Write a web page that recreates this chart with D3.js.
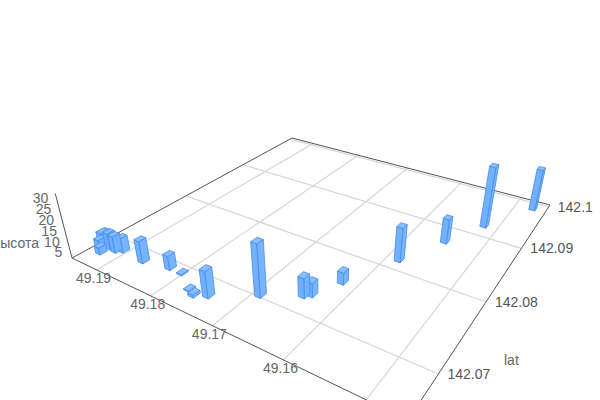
<!DOCTYPE html><html><head><meta charset="utf-8"><script src="https://cdn.jsdelivr.net/npm/d3@7"></script>
<style>html,body{margin:0;background:#fff;overflow:hidden}svg{display:block}text{font-family:"Liberation Sans",Arial,sans-serif;font-size:14px}</style></head><body><svg id="c" width="600" height="400"></svg>
<script>
const lonTicks=[49.19,49.18,49.17,49.16,49.15];
const latTicks=[142.07,142.08,142.09,142.1];
const heightTicks=[5,10,15,20,25,30];
const lons=[49.1474,49.1519,49.1550,49.1583,49.1620,49.1645,49.1638,49.1690,49.1742,49.1758,49.1771,49.1803,49.1824,49.1865,49.1907,49.1915,49.1927,49.1941,49.1940,49.1929,49.1940];
const lats=[142.0986,142.0922,142.0871,142.0817,142.0758,142.0723,142.0728,142.0703,142.0678,142.0672,142.0676,142.0690,142.0690,142.0684,142.0686,142.0682,142.0683,142.0685,142.0682,142.0672,142.0678];
const heights=[21.2,30.1,12.1,16.5,5.7,9.3,6.6,24.3,12.5,1.4,0.5,0.5,6.8,10.7,7.0,8.0,8.0,6.6,7.0,3.5,4.5];
const lonDomain=[49.195,49.1455], latDomain=[142.065,142.1005];
const dLon=0.00045, dLat=0.00042;
const corners=[[72,258],[408,420],[550,205],[292,138]];
const vp=[320,1212], zk=-0.0629/30;
const [p0,p1,p2,p3]=corners;
const dx1=p1[0]-p2[0],dx2=p3[0]-p2[0],sx=p0[0]-p1[0]+p2[0]-p3[0],dy1=p1[1]-p2[1],dy2=p3[1]-p2[1],sy=p0[1]-p1[1]+p2[1]-p3[1];
const den=dx1*dy2-dx2*dy1,g=(sx*dy2-dx2*sy)/den,h=(dx1*sy-sx*dy1)/den;
const a=p1[0]-p0[0]+g*p1[0],b=p3[0]-p0[0]+h*p3[0],c=p0[0],d=p1[1]-p0[1]+g*p1[1],e=p3[1]-p0[1]+h*p3[1],f=p0[1];
const uS=d3.scaleLinear().domain(lonDomain).range([0,1]),vS=d3.scaleLinear().domain(latDomain).range([0,1]);
function proj(lon,lat,z=0){const u=uS(lon),v=vS(lat);const X=a*u+b*v+c,Y=d*u+e*v+f,W=g*u+h*v+1,k=z*zk;return[(X+k*vp[0])/(W+k),(Y+k*vp[1])/(W+k)];}
const svg=d3.select('#c');
const line=(A,B,col,w=1)=>svg.append('line').attr('x1',A[0]).attr('y1',A[1]).attr('x2',B[0]).attr('y2',B[1]).attr('stroke',col).attr('stroke-width',w);
lonTicks.forEach(t=>line(proj(t,latDomain[0]),proj(t,latDomain[1]),'#d6d6d6',1.2));
latTicks.forEach(t=>line(proj(lonDomain[0],t),proj(lonDomain[1],t),'#d6d6d6',1.2));
const L=lonDomain,A=latDomain,axisCol='#555';
line(proj(L[0],A[0]),proj(L[1],A[0]),axisCol);
line(proj(L[1],A[0]),proj(L[1],A[1]),axisCol);
line(proj(L[1],A[1]),proj(L[0],A[1]),axisCol);
line(proj(L[0],A[1]),proj(L[0],A[0]),axisCol);
line(proj(L[0],A[0]),proj(L[0],A[0],30.2),axisCol);
const txt=(x,y,s,anchor,col)=>svg.append('text').attr('x',x).attr('y',y).attr('text-anchor',anchor).attr('fill',col).text(s);
lonTicks.forEach(t=>{const q=proj(t,A[0]);txt(q[0]-3,q[1]+13,String(t),'middle','#666');});
latTicks.forEach(t=>{const q=proj(L[1],t);txt(q[0]+9,q[1]+5,String(t),'start','#555');});
heightTicks.forEach(t=>{const q=proj(L[0],A[0],t);txt(q[0]-7,q[1]+9,String(t),'end','#666');});
txt(39,248,'высота','end','#666');
txt(504,365,'lat','start','#666');
const order=d3.range(lons.length).sort((i,j)=>proj(lons[i],lats[i])[1]-proj(lons[j],lats[j])[1]);
const poly=(pts,fill)=>svg.append('path').attr('d',d3.line()(pts)+'Z').attr('fill',fill).attr('stroke','#4a8ae8').attr('stroke-width',0.8).attr('stroke-linejoin','round');
order.forEach(i=>{const lo=lons[i],la=lats[i],z=heights[i];
 const lF=lo-dLon,lB=lo+dLon,aF=la-dLat,aB=la+dLat;
 const P=(x,y,zz)=>proj(x,y,zz);
 poly([P(lB,aF,0),P(lF,aF,0),P(lF,aF,z),P(lB,aF,z)],'rgba(104,174,255,.95)');
 poly([P(lF,aF,0),P(lF,aB,0),P(lF,aB,z),P(lF,aF,z)],'rgba(110,178,255,.95)');
 poly([P(lB,aF,z),P(lF,aF,z),P(lF,aB,z),P(lB,aB,z)],'rgba(128,190,255,.95)');
});
</script></body></html>
